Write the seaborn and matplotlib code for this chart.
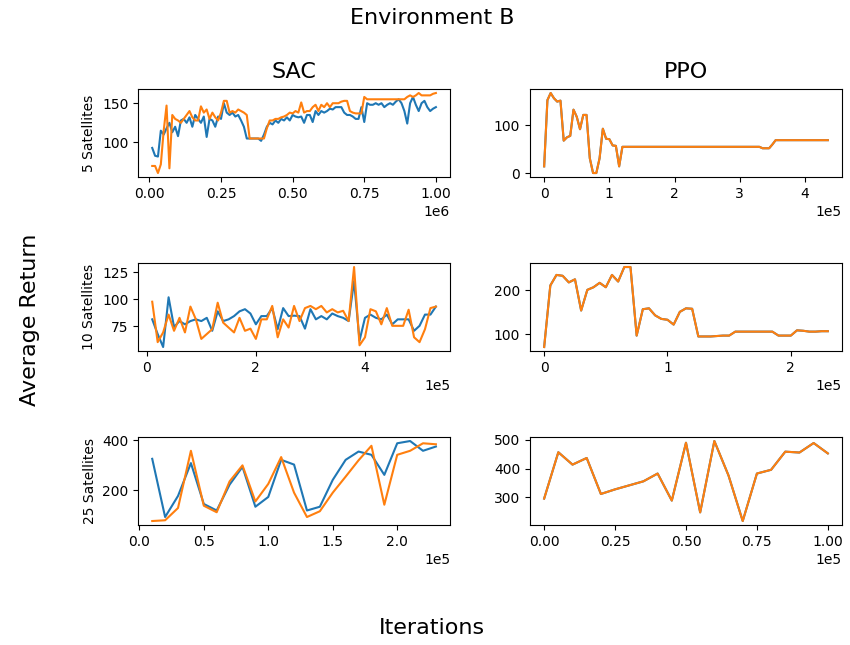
import matplotlib
matplotlib.use("Agg")
import matplotlib.pyplot as plt
import numpy as np
import pandas as pd
import seaborn as sns

# ---- SAC, 5 satellites (evaluation every 1e4 steps) ----
sac5_steps = np.arange(1, 101) * 10000
sac5_blue = [93, 83, 82, 115, 110, 118, 125, 113, 120, 108,
             128, 130, 125, 132, 120, 135, 130, 125, 133, 107,
             130, 128, 120, 133, 130, 150, 138, 135, 138, 133,
             135, 128, 120, 105, 105, 105, 105, 105, 102, 110,
             120, 125, 123, 128, 125, 130, 128, 132, 128, 135,
             133, 132, 133, 125, 135, 135, 126, 140, 135, 140,
             138, 140, 143, 142, 145, 145, 145, 138, 135, 135,
             133, 130, 130, 145, 126, 150, 148, 148, 150, 148,
             150, 145, 148, 150, 148, 152, 155, 150, 140, 124,
             150, 158, 148, 140, 150, 153, 145, 140, 143, 145]
sac5_orange = [70, 70, 61, 72, 115, 147, 67, 135, 130, 128,
               125, 130, 135, 140, 132, 128, 128, 146, 138, 142,
               130, 138, 132, 128, 138, 153, 153, 138, 140, 138,
               142, 140, 138, 135, 105, 105, 105, 105, 105, 105,
               118, 128, 128, 130, 130, 132, 133, 135, 138, 137,
               140, 138, 151, 138, 140, 140, 145, 148, 140, 148,
               145, 150, 145, 150, 150, 150, 152, 153, 153, 140,
               138, 137, 137, 137, 158, 155, 155, 155, 155, 155,
               155, 155, 155, 155, 155, 155, 155, 155, 155, 158,
               160, 158, 160, 163, 160, 160, 160, 160, 162, 163]

# ---- PPO, 5 satellites (evaluation every 5e3 steps) ----
ppo5_steps = np.arange(0, 88) * 5000
ppo5_vals = [14, 153, 168, 157, 150, 152, 68, 75, 78, 133,
             118, 92, 122, 122, 31, 0, 0, 31, 93, 72,
             71, 58, 57, 14, 55, 55, 55, 55, 55, 55,
             55, 55, 55, 55, 55, 55, 55, 55, 55, 55,
             55, 55, 55, 55, 55, 55, 55, 55, 55, 55,
             55, 55, 55, 55, 55, 55, 55, 55, 55, 55,
             55, 55, 55, 55, 55, 55, 55, 52, 52, 52,
             60, 69, 69, 69, 69, 69, 69, 69, 69, 69,
             69, 69, 69, 69, 69, 69, 69, 69]

# ---- SAC, 10 satellites ----
sac10_steps = np.arange(1, 54) * 10000
sac10_blue = [81.6, 68, 56, 102, 74.5, 80, 77, 80, 81.6, 80,
              83, 71, 89, 80, 81.6, 84.6, 89, 91, 87, 77,
              84.6, 84.6, 92, 72.5, 92, 84.6, 85, 84.6, 73, 91,
              81.6, 84.6, 81.6, 87, 84.6, 83, 80, 117, 62, 83,
              86, 83, 81.6, 86, 77, 81.6, 81.6, 81.6, 71, 75.6,
              86, 86, 93.4]
sac10_orange = [97.9, 60.5, 69.5, 86, 71, 83, 69.5, 93.4, 81.6, 63.5,
                68, 72.5, 97, 78.6, 74, 69.5, 83, 71, 73, 63.5,
                81.6, 81.6, 94, 65, 81.6, 74, 94, 80, 92, 94,
                91, 94, 88, 91, 88, 89.5, 80, 130, 57.6, 65,
                91, 89, 77, 92, 75.6, 75.6, 75.6, 90.5, 65, 60.5,
                72.5, 92, 93.4]

# ---- PPO, 10 satellites ----
ppo10_steps = np.arange(0, 47) * 5000
ppo10_vals = [71, 211, 235, 233, 218, 225, 154, 201, 207, 217,
              207, 235, 220, 253, 253, 97, 157, 159, 143, 135,
              133, 122, 151, 159, 158, 95, 95, 95, 96, 97,
              97, 106, 106, 106, 106, 106, 106, 106, 97, 97,
              97, 109, 108, 106, 106, 107, 107]

# ---- SAC, 25 satellites ----
sac25_steps = np.arange(1, 24) * 10000
sac25_blue = [325, 93, 177, 308, 145, 119, 222, 293, 134, 173,
              321, 302, 119, 134, 241, 321, 354, 341, 261, 387,
              396, 357, 374]
sac25_orange = [77, 80, 129, 357, 138, 112, 235, 299, 155, 225,
                332, 190, 93, 116, 190, 254, 319, 377, 142, 341,
                357, 387, 383]

# ---- PPO, 25 satellites ----
ppo25_steps = np.arange(0, 21) * 5000
ppo25_vals = [296, 457, 414, 437, 312, 328, 342, 356, 383, 289,
              490, 248, 496, 376, 218, 383, 396, 459, 456, 489,
              453]

row_labels = ["5 Satellites", "10 Satellites", "25 Satellites"]
col_titles = ["SAC", "PPO"]

# x tick positions for each panel (rows: 5, 10, 25 satellites; cols: SAC, PPO)
xticks = [
    [[0, 0.25e6, 0.5e6, 0.75e6, 1.0e6], [0, 1e5, 2e5, 3e5, 4e5]],
    [[0, 2e5, 4e5], [0, 1e5, 2e5]],
    [[0, 0.5e5, 1e5, 1.5e5, 2e5], [0, 0.25e5, 0.5e5, 0.75e5, 1e5]],
]

panels = [
    [(sac5_steps, sac5_blue, sac5_orange), (ppo5_steps, ppo5_vals, ppo5_vals)],
    [(sac10_steps, sac10_blue, sac10_orange), (ppo10_steps, ppo10_vals, ppo10_vals)],
    [(sac25_steps, sac25_blue, sac25_orange), (ppo25_steps, ppo25_vals, ppo25_vals)],
]

fig, axes = plt.subplots(3, 2, figsize=(8.5, 6.45), dpi=100)
fig.subplots_adjust(left=0.1624, right=0.9906, top=0.862, bottom=0.186,
                    wspace=0.256, hspace=0.977)

for r in range(3):
    for c in range(2):
        ax = axes[r, c]
        steps, first, second = panels[r][c]
        df = pd.DataFrame({"step": steps, "a": first, "b": second})
        sns.lineplot(data=df, x="step", y="a", ax=ax, color="C0", linewidth=1.5)
        sns.lineplot(data=df, x="step", y="b", ax=ax, color="C1", linewidth=1.5)
        ax.set_xticks(xticks[r][c])
        ax.ticklabel_format(axis="x", style="sci", scilimits=(0, 0))
        ax.set_xlabel("")
        ax.set_ylabel(row_labels[r] if c == 0 else "")
        if r == 0:
            ax.set_title(col_titles[c], fontsize=16, pad=8)

fig.suptitle("Environment B", x=0.508, y=0.972, va="center", fontsize=16)
fig.supxlabel("Iterations", x=0.508, y=0.026, va="center", fontsize=16)
fig.supylabel("Average Return", x=0.035, y=0.504, ha="center", va="center", fontsize=16)

fig.savefig("out.png", dpi=100)
